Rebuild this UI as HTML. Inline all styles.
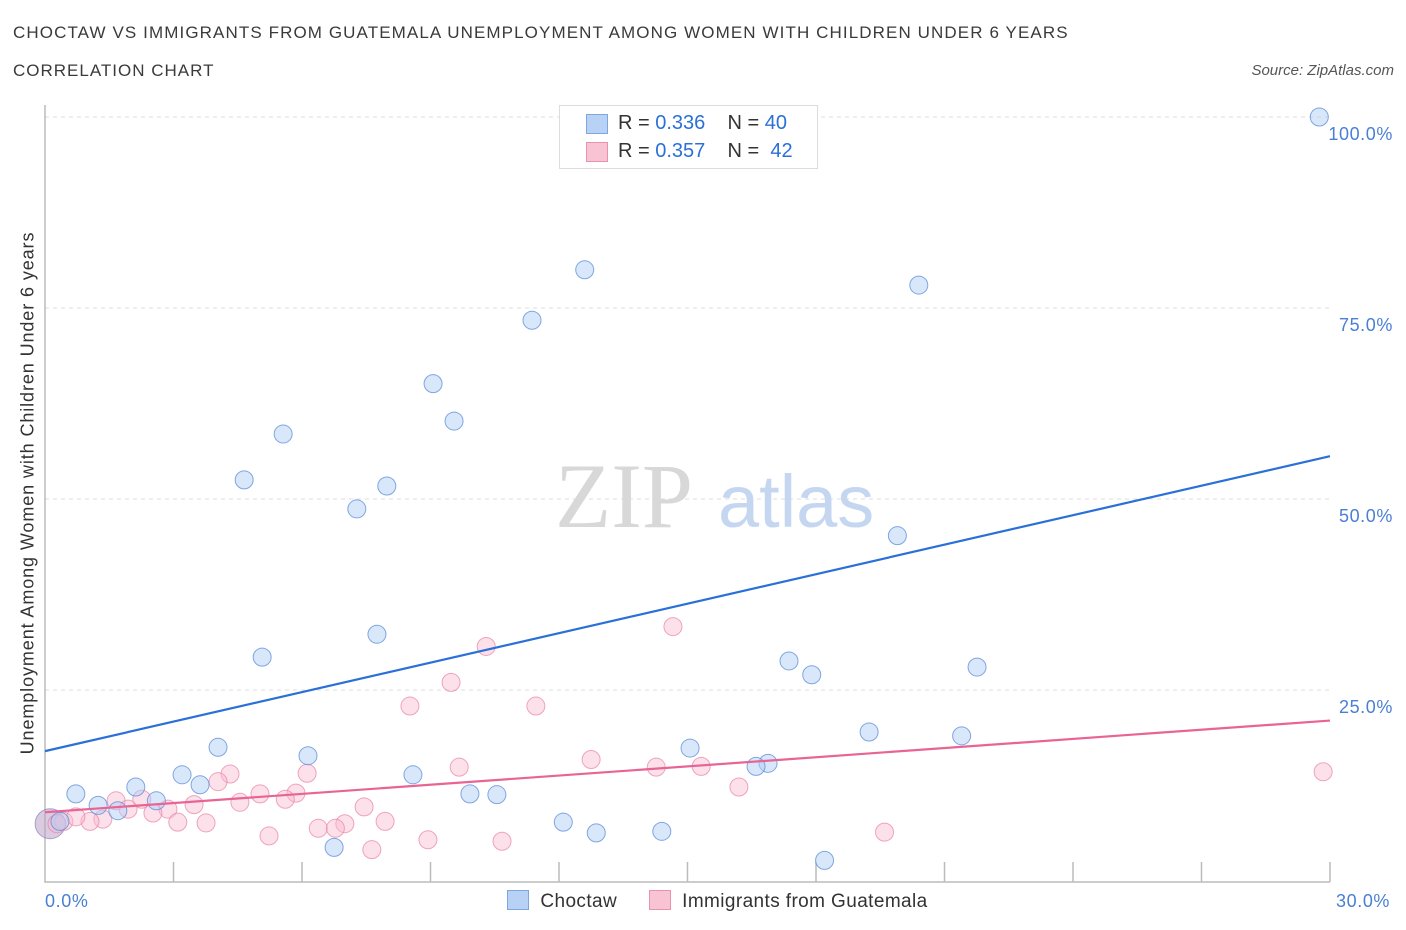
<!DOCTYPE html>
<html><head><meta charset="utf-8"><style>
body{margin:0;background:#fff;font-family:"Liberation Sans",sans-serif;}
#wrap{position:relative;width:1406px;height:930px;overflow:hidden}
.t{position:absolute;color:#333;}
</style></head><body>
<div id="wrap">
<div class="t" style="left:13px;top:23px;font-size:17px;letter-spacing:1.1px;color:#3a3a3a">CHOCTAW VS IMMIGRANTS FROM GUATEMALA UNEMPLOYMENT AMONG WOMEN WITH CHILDREN UNDER 6 YEARS</div>
<div class="t" style="left:13px;top:61px;font-size:17px;letter-spacing:1px;color:#3a3a3a">CORRELATION CHART</div>
<div class="t" style="right:12px;top:62px;font-size:15px;font-style:italic;color:#555">Source: ZipAtlas.com</div>
<svg id="chart" width="1406" height="930" style="position:absolute;left:0;top:0"></svg>
</div>
<script>
const choctawX=[29.75,12.6,20.4,11.37,9.06,9.55,5.56,4.65,7.98,7.28,19.9,7.75,5.07,17.37,17.9,21.76,19.24,21.4,4.04,6.14,15.06,16.88,16.6,3.2,8.59,0.72,2.12,3.62,1.24,1.7,2.6,9.92,10.55,12.1,12.87,14.4,6.75,18.2,0.35];
const choctawY=[100,80,78,73.4,65.1,60.2,58.5,52.5,51.7,48.7,45.2,32.3,29.3,28.8,27.0,28.0,19.5,19.0,17.5,16.4,17.4,15.4,15.0,13.9,13.9,11.4,12.3,12.6,9.9,9.2,10.5,11.4,11.3,7.7,6.3,6.5,4.4,2.7,7.8];
const guatX=[29.84,14.66,10.3,9.48,8.52,11.46,12.75,14.27,15.32,9.67,4.32,6.12,4.04,16.2,5.86,5.02,2.26,4.55,5.61,3.48,1.66,2.87,1.94,7.45,2.52,1.35,1.05,0.44,0.72,3.1,3.76,7.0,7.94,6.38,6.78,5.23,8.94,10.67,7.63,19.6,0.28];
const guatY=[14.3,33.3,30.7,26.0,22.9,22.9,15.9,14.9,15.0,14.9,14.0,14.1,13.0,12.3,11.5,11.4,10.7,10.3,10.7,10.0,10.5,9.4,9.4,9.7,8.9,8.1,7.8,7.8,8.4,7.7,7.6,7.5,7.8,6.9,6.9,5.9,5.4,5.2,4.1,6.4,7.5];
const yTicks=[25,50,75,100];
const yTickLabels=["25.0%","50.0%","75.0%","100.0%"];
const blueTrend=[17.0,55.6];
const pinkTrend=[9.0,21.0];
const NS="http://www.w3.org/2000/svg";
const svg=document.getElementById('chart');
const X=v=>45+v/30*1285;
const Y=v=>881-v/100*764;
function mk(t,a){const e=document.createElementNS(NS,t);for(const k in a)e.setAttribute(k,a[k]);svg.appendChild(e);return e;}
yTicks.forEach((v,i)=>{
 const g=mk('line',{x1:45,x2:1330,y1:Y(v),y2:Y(v),stroke:'#ddd','stroke-dasharray':'4,4'});
 
 
 const t=mk('text',{x:1393,y:Y(v)+23,'text-anchor':'end','font-size':18,'letter-spacing':0.6,fill:'#4a7fd4','font-family':'Liberation Sans, sans-serif'});
 t.textContent=yTickLabels[i];
 
 
});
for(let i=1;i<=10;i++){
 const l=mk('line',{x1:X(i*3),x2:X(i*3),y1:862,y2:882,stroke:'#bbb','stroke-width':1.5});
 
 
}
const ax=mk('path',{d:'M45 105 V882 H1330',fill:'none',stroke:'#bbb','stroke-width':1.5});


const wm1=mk('text',{x:555,y:527,'font-size':92,fill:'#d8d8d8','font-family':'Liberation Serif, serif'});wm1.textContent='ZIP';


const wm2=mk('text',{x:718,y:527,'font-size':74,fill:'#c5d7f0','font-family':'Liberation Sans, sans-serif'});wm2.textContent='atlas';


const big=mk('circle',{cx:X(0.12),cy:Y(7.5),r:15,fill:'rgba(190,160,200,0.55)',stroke:'rgba(140,130,190,0.7)','stroke-width':1});


guatX.forEach((x,i)=>{
 const c=mk('circle',{cx:X(x),cy:Y(guatY[i]),r:9,fill:'rgba(248,187,208,0.45)',stroke:'rgba(232,130,165,0.7)','stroke-width':1});
 
 
});
choctawX.forEach((x,i)=>{
 const c=mk('circle',{cx:X(x),cy:Y(choctawY[i]),r:9,fill:'rgba(180,208,245,0.5)',stroke:'rgba(90,140,215,0.75)','stroke-width':1});
 
 
});
const bl=mk('line',{x1:X(0),y1:Y(blueTrend[0]),x2:X(30),y2:Y(blueTrend[1]),stroke:'#2a70d8','stroke-width':2.2});


const pl=mk('line',{x1:X(0),y1:Y(pinkTrend[0]),x2:X(30),y2:Y(pinkTrend[1]),stroke:'#e86494','stroke-width':2.2});


</script>
<div style="position:absolute;left:559px;top:105px;width:257px;height:62px;border:1px solid #ddd;background:#fff;font-size:20px;color:#333">
 <div style="position:absolute;left:26px;top:8px;width:20px;height:18px;background:#b8d2f5;border:1px solid #7ea6e0"></div>
 <div style="position:absolute;left:58px;top:6px">R = <span style="color:#2a70d8">0.336</span>&nbsp;&nbsp;&nbsp; N = <span style="color:#2a70d8">40</span></div>
 <div style="position:absolute;left:26px;top:36px;width:20px;height:18px;background:#f8c4d4;border:1px solid #e892b0"></div>
 <div style="position:absolute;left:58px;top:34px">R = <span style="color:#2a70d8">0.357</span>&nbsp;&nbsp;&nbsp; N = &nbsp;<span style="color:#2a70d8">42</span></div>
</div>
<div class="t" style="left:45px;top:891px;font-size:18px;letter-spacing:0.6px;color:#4a7fd4">0.0%</div>
<div class="t" style="left:1336px;top:891px;font-size:18px;letter-spacing:0.6px;color:#4a7fd4">30.0%</div>
<div style="position:absolute;left:507px;top:890px;font-size:19px;letter-spacing:0.4px;color:#333">
 <span><span style="display:inline-block;width:20px;height:18px;background:#b8d2f5;border:1px solid #7ea6e0;vertical-align:-3px"></span>&nbsp; Choctaw</span>
 <span style="margin-left:26px"><span style="display:inline-block;width:20px;height:18px;background:#f8c4d4;border:1px solid #e892b0;vertical-align:-3px"></span>&nbsp; Immigrants from Guatemala</span>
</div>
<div style="position:absolute;left:28px;top:493px;transform:translate(-50%,-50%) rotate(-90deg);white-space:nowrap;font-size:18px;letter-spacing:0.9px;color:#333;font-family:'Liberation Sans',sans-serif">Unemployment Among Women with Children Under 6 years</div>
</body></html>
